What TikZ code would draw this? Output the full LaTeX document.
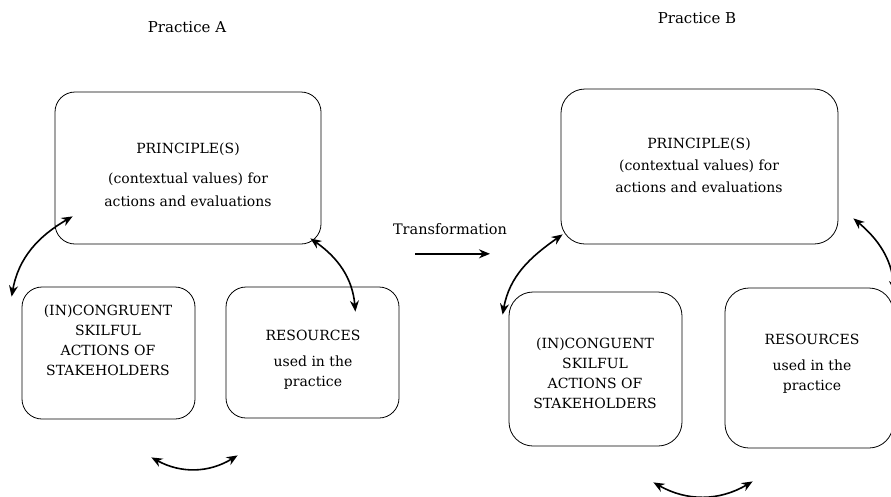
\documentclass[tikz,border=0pt]{standalone}
\usepackage{fontspec}
\setmainfont{DejaVu Serif}
\usetikzlibrary{arrows.meta, calc, positioning}

\begin{document}
\begin{tikzpicture}[x=1pt, y=1pt,
    every node/.style={font=\fontsize{14}{20}\selectfont},
    pbox/.style={draw, rounded corners=20pt, line width=0.8pt},
    ptext/.style={align=center, inner sep=0pt},
    ptitle/.style={inner sep=0pt, font=\fontsize{15}{18}\selectfont},
    link/.style={{Stealth[length=11pt,width=9pt]}-{Stealth[length=11pt,width=9pt]}, line width=1.6pt},
    onelink/.style={-{Stealth[length=11pt,width=9pt]}, line width=1.6pt}]
    \useasboundingbox (0, 0) rectangle (891, -496);

    % titles
    \node[ptitle] (titleA) at (187, -27) {Practice A};
    \node[ptitle] (titleB) at (697, -18) {Practice B};

    % practice A
    \node[pbox, minimum width=266pt, minimum height=152pt] (prinA) at (188, -168) {};
    \node[ptext, font=\fontsize{14}{23}\selectfont] (prinAtxt) at (188, -175) {PRINCIPLE(S)\\[7pt](contextual values) for\\actions and evaluations};
    \node[pbox, minimum width=173pt, minimum height=132pt] (actA) at (108.5, -353) {};
    \node[ptext] (actAtxt) at (108, -340) {(IN)CONGRUENT\\SKILFUL\\ACTIONS OF\\STAKEHOLDERS};
    \node[pbox, minimum width=173pt, minimum height=131pt] (resA) at (312.5, -352.5) {};
    \node[ptext] (resAtxt) at (313, -360) {RESOURCES\\[6pt]used in the\\practice};

    % practice B
    \node[pbox, rounded corners=24pt, minimum width=277pt, minimum height=155pt] (prinB) at (699.5, -166.5) {};
    \node[ptext, font=\fontsize{14}{22}\selectfont] (prinBtxt) at (699, -165) {PRINCIPLE(S)\\(contextual values) for\\actions and evaluations};
    \node[pbox, rounded corners=24pt, minimum width=173pt, minimum height=154pt] (actB) at (595.5, -369) {};
    \node[ptext] (actBtxt) at (595, -373) {(IN)CONGUENT\\SKILFUL\\ACTIONS OF\\STAKEHOLDERS};
    \node[pbox, rounded corners=24pt, minimum width=168pt, minimum height=160pt] (resB) at (809, -368) {};
    \node[ptext] (resBtxt) at (812, -364) {RESOURCES\\[6pt]used in the\\practice};

    % transformation
    \node[ptext, font=\fontsize{14.5}{18}\selectfont] (trans) at (450, -229) {Transformation};
    \draw[onelink] ($(trans.south)+(-35, -19)$) -- ($(trans.south)+(40, -19)$);

    % links A
    \draw[link] ($(actA.north west)+(-10, -10)$) to[out=80, in=210] ($(prinA.south west)+(18, 28)$);
    \draw[link] ($(prinA.south east)+(-11, 6)$) to[out=-35, in=95] ($(resA.north east)+(-44, -25)$);
    \draw[link] ($(actA.south east)+(-44, -38)$) to[bend right=30] ($(resA.south west)+(12, -37)$);

    % links B
    \draw[link] ($(actB.north west)+(-6, -23)$) to[out=80, in=215] ($(prinB.south west)+(2, 10)$);
    \draw[link] ($(prinB.south east)+(15, 26)$) to[out=-40, in=95] ($(resB.north east)+(1, -4)$);
    \draw[link] ($(actB.south east)+(-29, -36)$) to[bend right=30] ($(resB.south west)+(28, -33)$);
\end{tikzpicture}
\end{document}
